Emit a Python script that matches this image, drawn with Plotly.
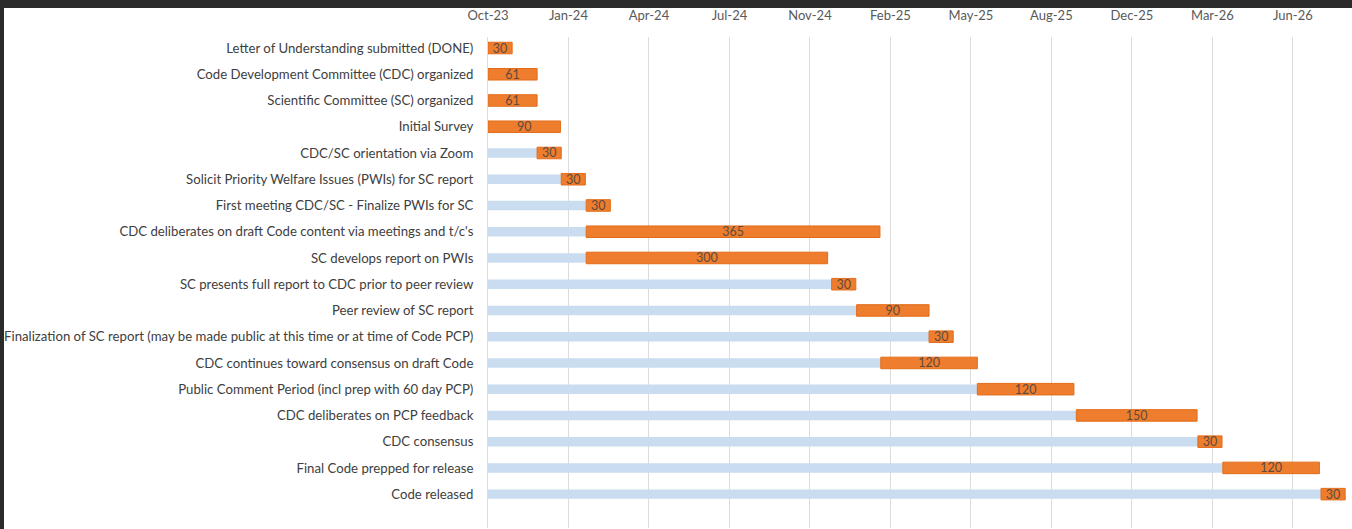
import plotly.graph_objects as go
import pandas as pd

tasks = [
    "Letter of Understanding submitted (DONE)",
    "Code Development Committee (CDC) organized",
    "Scientific Committee (SC) organized",
    "Initial Survey",
    "CDC/SC orientation via Zoom",
    "Solicit Priority Welfare Issues (PWIs) for SC report",
    "First meeting CDC/SC - Finalize PWIs for SC",
    "CDC deliberates on draft Code content via meetings and t/c's",
    "SC develops report on PWIs",
    "SC presents full report to CDC prior to peer review",
    "Peer review of SC report",
    "Finalization of SC report (may be made public at this time or at time of Code PCP)",
    "CDC continues toward consensus on draft Code",
    "Public Comment Period (incl prep with 60 day PCP)",
    "CDC deliberates on PCP feedback",
    "CDC consensus",
    "Final Code prepped for release",
    "Code released",
]
start_dates = [
    "2023-10-01", "2023-10-01", "2023-10-01", "2023-10-01", "2023-12-01",
    "2023-12-31", "2024-01-31", "2024-01-31", "2024-01-31", "2024-12-01",
    "2025-01-01", "2025-04-01", "2025-01-31", "2025-05-31", "2025-10-01",
    "2026-03-01", "2026-04-01", "2026-08-01",
]
durations = [30, 61, 61, 90, 30, 30, 30, 365, 300, 30, 90, 30, 120, 120, 150, 30, 120, 30]

axis_start = "2023-10-01"
axis_end = "2026-09-06"
tick_step_days = 100

DAY_MS = 86400000
starts = pd.to_datetime(start_dates)
offset_ms = [(s - pd.Timestamp(axis_start)).days * DAY_MS for s in starts]
dur_ms = [d * DAY_MS for d in durations]

FONT = "Lato, Open Sans, sans-serif"

fig = go.Figure()
fig.add_trace(go.Bar(
    y=tasks, x=offset_ms, base=[axis_start] * len(tasks), orientation="h",
    marker=dict(color="#C9DCF0", line=dict(width=0)), width=0.36,
    hoverinfo="skip", showlegend=False,
))
fig.add_trace(go.Bar(
    y=tasks, x=dur_ms, base=start_dates, orientation="h",
    marker=dict(color="#EE7D2E", line=dict(color="#E36C1A", width=1)), width=0.44,
    text=[str(d) for d in durations], textposition="inside", textangle=0,
    insidetextanchor="middle", constraintext="none",
    textfont=dict(family=FONT, size=12.5, color="#5E4A3E"),
    showlegend=False,
))

fig.update_layout(
    barmode="overlay",
    width=1352, height=529,
    margin=dict(l=488, r=2, t=37, b=1),
    paper_bgcolor="#2B2B2B",
    plot_bgcolor="white",
    font=dict(family=FONT, size=13.2, color="#404040"),
    shapes=[dict(type="rect", xref="paper", yref="paper",
                 x0=-484 / 862, x1=1.01, y0=-0.01, y1=1 + 29 / 491,
                 fillcolor="white", line=dict(width=0), layer="below")],
)
fig.update_xaxes(
    type="date", side="top", range=[axis_start, axis_end],
    tick0=axis_start, dtick=tick_step_days * DAY_MS, tickformat="%b-%y",
    showgrid=True, gridcolor="#DCDCDC", gridwidth=1,
    tickfont=dict(size=13, color="#595959"),
    ticks="outside", ticklen=11, tickcolor="rgba(0,0,0,0)",
    zeroline=False, showline=False,
)
fig.update_yaxes(
    type="category", range=[18.29, -0.42],
    showgrid=False, showline=True, linecolor="#DCDCDC", linewidth=1,
    ticks="outside", ticklen=11, tickcolor="rgba(0,0,0,0)",
    tickfont=dict(size=13.2, color="#404040"),
)
fig.write_html("out.html",
               config={"displayModeBar": False},
               post_script="document.body.style.margin='0';document.body.style.overflow='hidden';")
